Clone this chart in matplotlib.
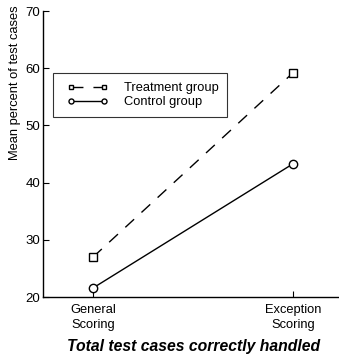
# Mean percent of test cases handled, treatment vs control
import matplotlib
matplotlib.use('Agg')
import matplotlib.pyplot as plt
from matplotlib.legend_handler import HandlerLine2D

matplotlib.rc('font', family='Liberation Sans', size=9.5)

# Data
conditions=['General\nScoring','Exception\nScoring']
treatment=[27.0,59.2]
control=[21.6,43.3]
yticks=[20,30,40,50,60,70]

fig=plt.figure(figsize=(3.39,3.55),dpi=100)
ax=fig.add_axes([0.127,0.163,0.873,0.806])

xpos=[1,2]
dash=(0,(8.6,7.2))
l_t,=ax.plot(xpos,treatment,color='black',linestyle=dash,linewidth=1.0,
             marker='s',markersize=5.5,markerfacecolor='white',
             markeredgecolor='black',markeredgewidth=1.0,
             label='Treatment group')
l_c,=ax.plot(xpos,control,color='black',linestyle='-',linewidth=1.0,
             marker='o',markersize=6,markerfacecolor='white',
             markeredgecolor='black',markeredgewidth=1.0,
             label='Control group')

ax.set_xlim(0.75,2.23)
ax.set_ylim(20,70)
ax.set_yticks(yticks)
ax.set_xticks(xpos)
ax.set_xticklabels(conditions,fontsize=9.3,linespacing=1.3)
ax.tick_params(axis='both',direction='in',length=4,width=0.8)
ax.tick_params(axis='y',labelsize=9.5,pad=2)
ax.tick_params(axis='x',pad=5)

for s in ['top','right']:
    ax.spines[s].set_visible(False)
for s in ['left','bottom']:
    ax.spines[s].set_linewidth(1.0)

ax.set_ylabel('Mean percent of test cases',fontsize=9.3)
ax.yaxis.set_label_coords(-0.076,0.748)
ax.set_xlabel('Total test cases correctly handled',fontsize=11.3,
              fontweight='bold',fontstyle='italic',va='center')
ax.xaxis.set_label_coords(0.51,-0.171)

hm={l_t:HandlerLine2D(numpoints=2,marker_pad=0.7),
    l_c:HandlerLine2D(numpoints=2,marker_pad=0.7)}
leg=ax.legend(loc='upper left',bbox_to_anchor=(53/339,1-73/355),
              bbox_transform=fig.transFigure,fontsize=9.3,
              handler_map=hm,markerscale=0.6,borderaxespad=0,
              handlelength=3.96,frameon=True,fancybox=False,
              borderpad=0.7,labelspacing=0.15,handletextpad=0.8)
leg.get_frame().set_edgecolor('black')
leg.get_frame().set_linewidth(0.8)

fig.savefig('out.png')
